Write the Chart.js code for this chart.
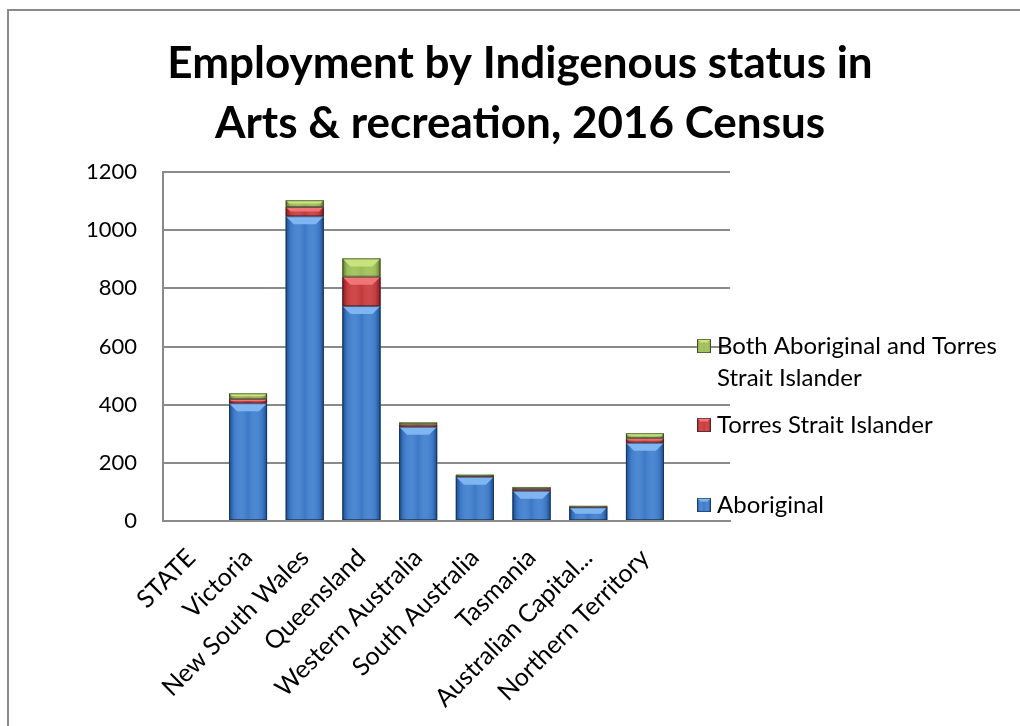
<!DOCTYPE html>
<html>
<head>
<meta charset="utf-8">
<script src="https://cdn.jsdelivr.net/npm/chart.js@4.4.1/dist/chart.umd.min.js"></script>
<style>
  html, body { margin: 0; padding: 0; background: #ffffff; }
  #wrap { position: relative; width: 1020px; height: 726px; }
  canvas { display: block; }
</style>
</head>
<body>
<div id="wrap"><canvas id="c" width="1020" height="726"></canvas></div>
<script>
const titleLines = ['Employment by Indigenous status in', 'Arts & recreation, 2016 Census'];
const categories = ['STATE', 'Victoria', 'New South Wales', 'Queensland', 'Western Australia',
  'South Australia', 'Tasmania', 'Australian Capital Territory', 'Northern Territory', ''];
const aboriginal = [null, 405, 1048, 739, 324, 152, 104, 47, 269, null];
const torresStrait = [null, 15, 32, 101, 8, 3, 6, 2, 16, null];
const bothStatus = [null, 19, 23, 63, 7, 4, 7, 3, 17, null];
const seriesNames = ['Aboriginal', 'Torres Strait Islander', 'Both Aboriginal and Torres Strait Islander'];
const yTicks = [0, 200, 400, 600, 800, 1000, 1200];

const FONT = 'Lato, "Open Sans", sans-serif';
const baseColors = ['#3c78c6', '#c23a3c', '#9bbb59'];
const lightColors = ['#7fb6f2', '#f07676', '#c8e47e'];
const darkColors = ['#1d4b88', '#7d1f21', '#5f7a2c'];

const framePlugin = {
  id: 'frame',
  beforeDraw(chart) {
    const ctx = chart.ctx;
    ctx.save();
    ctx.fillStyle = '#ffffff';
    ctx.fillRect(0, 0, chart.width, chart.height);
    ctx.strokeStyle = '#8a8a8a';
    ctx.lineWidth = 2;
    ctx.beginPath();
    ctx.moveTo(8, chart.height);
    ctx.lineTo(8, 10);
    ctx.lineTo(chart.width, 10);
    ctx.stroke();
    ctx.fillStyle = '#000000';
    ctx.font = 'bold 44px ' + FONT;
    ctx.textAlign = 'center';
    ctx.textBaseline = 'middle';
    titleLines.forEach((t, k) => ctx.fillText(t, 520, 64 + k * 60));
    ctx.restore();
  }
};

function bevel(ctx, x0, x1, top, bottom, i) {
  const w = x1 - x0, h = bottom - top;
  if (h <= 0) return;
  const g = ctx.createLinearGradient(x0, 0, x1, 0);
  g.addColorStop(0, darkColors[i]);
  g.addColorStop(0.12, baseColors[i]);
  g.addColorStop(0.5, lightColors[i] + '00');
  g.addColorStop(0.88, baseColors[i]);
  g.addColorStop(1, darkColors[i]);
  ctx.fillStyle = baseColors[i];
  ctx.fillRect(x0, top, w, h);
  ctx.fillStyle = g;
  ctx.fillRect(x0, top, w, h);
  const b = Math.min(8, h / 2, w / 4);
  ctx.fillStyle = lightColors[i];
  ctx.beginPath();
  ctx.moveTo(x0, top);
  ctx.lineTo(x1, top);
  ctx.lineTo(x1 - b, top + b);
  ctx.lineTo(x0 + b, top + b);
  ctx.closePath();
  ctx.fill();
  ctx.strokeStyle = 'rgba(20,30,40,0.55)';
  ctx.lineWidth = 1;
  ctx.strokeRect(x0 + 0.5, top + 0.5, w - 1, h - 1);
}

const barStyle = {
  id: 'barStyle',
  afterDatasetsDraw(chart) {
    const ctx = chart.ctx;
    ctx.save();
    chart.data.datasets.forEach((ds, i) => {
      const meta = chart.getDatasetMeta(i);
      meta.data.forEach((el, j) => {
        if (ds.data[j] == null) return;
        const p = el.getProps(['x', 'y', 'base', 'width'], true);
        bevel(ctx, p.x - p.width / 2, p.x + p.width / 2, Math.min(p.y, p.base), Math.max(p.y, p.base), i);
      });
    });
    ctx.restore();
  }
};

const legendPlugin = {
  id: 'sideLegend',
  afterDraw(chart) {
    const ctx = chart.ctx;
    const area = chart.chartArea;
    ctx.save();
    ctx.font = '24px ' + FONT;
    ctx.textBaseline = 'middle';
    const boxX = area.right - 33;
    const textX = boxX + 20;
    const maxW = chart.width - textX - 6;
    const lineH = 32;
    const centers = [area.top + 333, area.top + 253, area.top + 174];
    chart.data.datasets.forEach((ds, i) => {
      const cy = centers[i];
      bevel(ctx, boxX, boxX + 14, cy - 7, cy + 7, i);
      const words = ds.label.split(' ');
      const lines = [];
      let cur = '';
      words.forEach(w => {
        const t = cur ? cur + ' ' + w : w;
        if (ctx.measureText(t).width > maxW && cur) { lines.push(cur); cur = w; } else { cur = t; }
      });
      lines.push(cur);
      ctx.fillStyle = '#000000';
      lines.forEach((l, k) => ctx.fillText(l, textX, cy + k * lineH));
    });
    ctx.restore();
  }
};

new Chart(document.getElementById('c'), {
  type: 'bar',
  data: {
    labels: categories,
    datasets: [
      { label: seriesNames[0], data: aboriginal, backgroundColor: baseColors[0] },
      { label: seriesNames[1], data: torresStrait, backgroundColor: baseColors[1] },
      { label: seriesNames[2], data: bothStatus, backgroundColor: baseColors[2] }
    ]
  },
  options: {
    responsive: false,
    animation: false,
    events: [],
    categoryPercentage: 1.0,
    barPercentage: 0.67,
    layout: { padding: { left: 0, right: 290, top: 172, bottom: 0 } },
    plugins: {
      legend: { display: false },
      tooltip: { enabled: false },
      title: { display: false }
    },
    scales: {
      x: {
        stacked: true,
        grid: { display: false, drawTicks: false },
        border: { display: true, color: '#8a8a8a', width: 2 },
        ticks: {
          color: '#000000',
          font: { family: FONT, size: 25 },
          minRotation: 45,
          maxRotation: 45,
          autoSkip: false,
          padding: 22,
          callback(value) {
            const s = this.getLabelForValue(value);
            return s.length > 22 ? s.slice(0, 18) + '...' : s;
          }
        },
        afterFit(scale) { scale.height = 205; }
      },
      y: {
        stacked: true,
        min: 0,
        max: 1200,
        afterBuildTicks(scale) { scale.ticks = yTicks.map(v => ({ value: v })); },
        grid: { color: '#8a8a8a', lineWidth: 2, drawTicks: false },
        border: { display: true, color: '#8a8a8a', width: 2 },
        ticks: { color: '#000000', font: { family: FONT, size: 22 }, padding: 26, callback: v => String(v) },
        afterFit(scale) { scale.width = 163; }
      }
    }
  },
  plugins: [framePlugin, barStyle, legendPlugin]
});
</script>
</body>
</html>
